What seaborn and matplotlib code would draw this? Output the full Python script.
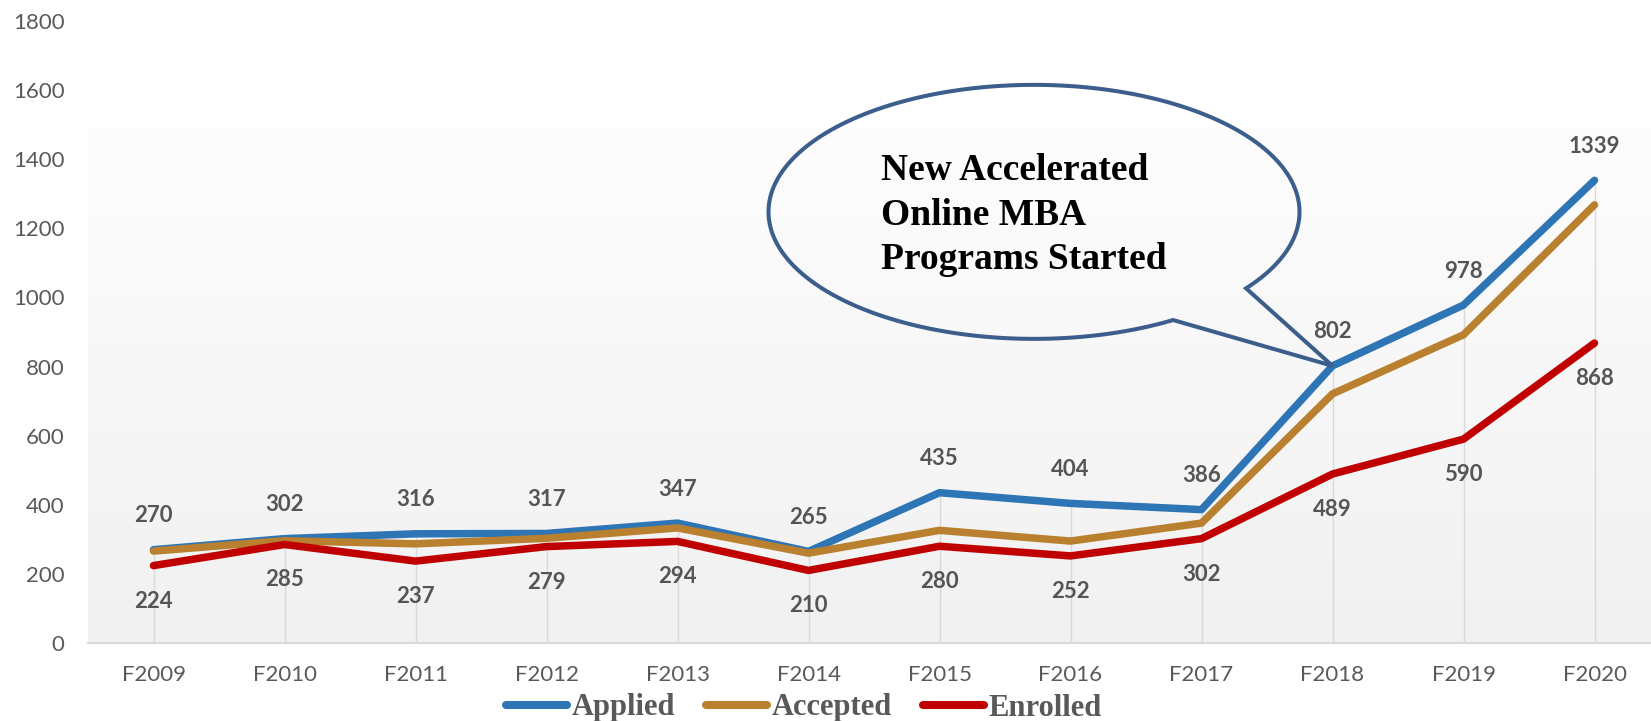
import numpy as np
import pandas as pd
import matplotlib
matplotlib.use("Agg")
import matplotlib.pyplot as plt
import seaborn as sns
from matplotlib.path import Path
from matplotlib.patches import PathPatch
from matplotlib.lines import Line2D
from matplotlib.colors import LinearSegmentedColormap
from matplotlib.transforms import IdentityTransform

# ---- data -------------------------------------------------------------
terms = ["F2009", "F2010", "F2011", "F2012", "F2013", "F2014",
         "F2015", "F2016", "F2017", "F2018", "F2019", "F2020"]
applied = [270, 302, 316, 317, 347, 265, 435, 404, 386, 802, 978, 1339]
accepted = [266, 296, 287, 303, 333, 260, 326, 295, 347, 721, 892, 1268]
enrolled = [224, 285, 237, 279, 294, 210, 280, 252, 302, 489, 590, 868]
series_names = ["Applied", "Accepted", "Enrolled"]
y_ticks = [0, 200, 400, 600, 800, 1000, 1200, 1400, 1600, 1800]
callout_text = "New Accelerated\nOnline MBA\nPrograms Started"
callout_term = "F2018"

colors = {"Applied": "#2e75b6", "Accepted": "#b8802f", "Enrolled": "#c00000"}
label_gray = "#595959"

df = pd.DataFrame({
    "term": terms * 3,
    "count": applied + accepted + enrolled,
    "series": sum([[n] * len(terms) for n in series_names], []),
})

sns.set_theme(style="white")
plt.rcParams["font.family"] = ["Lato", "DejaVu Sans"]

W, H, DPI = 1651, 721, 100
fig = plt.figure(figsize=(W / DPI, H / DPI), dpi=DPI)
ax = fig.add_axes([88 / W, 78 / H, (W - 88) / W, 622 / H])

x = np.arange(len(terms))
ax.set_xlim(-0.5, -0.5 + (W - 88) / 131)
ax.set_ylim(0, 1800)

# plot-area background: soft vertical gradient
grad = np.linspace(0, 1, 256).reshape(-1, 1)
cmap = LinearSegmentedColormap.from_list("bg", ["#f1f1f1", "#fdfdfd"])
ax.imshow(grad, cmap=cmap, origin="lower", aspect="auto",
          extent=(-0.5, ax.get_xlim()[1], 0, 1490), zorder=0)

# drop lines from the highest series to the axis
tops = np.maximum.reduce([applied, accepted, enrolled])
ax.vlines(x, 0, tops, color="#d9d9d9", lw=1.0, zorder=1)

sns.lineplot(data=df, x="term", y="count", hue="series",
             hue_order=series_names, palette=colors, sort=False,
             lw=5.4, legend=False, ax=ax, zorder=3,
             solid_capstyle="round", solid_joinstyle="round")

# axes styling
for s in ["top", "right", "left"]:
    ax.spines[s].set_visible(False)
ax.spines["bottom"].set_color("#d9d9d9")
ax.spines["bottom"].set_linewidth(1.5)
ax.set_yticks(y_ticks)
ax.set_xticks(x)
ax.set_xticklabels(terms)
ax.tick_params(axis="y", length=0, pad=17, labelsize=16, labelcolor=label_gray)
ax.tick_params(axis="x", length=0, pad=16, labelsize=16, labelcolor=label_gray)
ax.set_xlabel("")
ax.set_ylabel("")
ax.grid(False)

# value labels
for xi, v in zip(x, applied):
    ax.annotate(f"{v}", (xi, v), xytext=(0, 24.5), textcoords="offset points",
                ha="center", va="center", fontsize=16, fontweight="bold",
                color="#555555", zorder=5)
for xi, v in zip(x, enrolled):
    ax.annotate(f"{v}", (xi, v), xytext=(0, -25.5), textcoords="offset points",
                ha="center", va="center", fontsize=16, fontweight="bold",
                color="#555555", zorder=5)

# speech-bubble callout pointing at the F2018 applied value
ci = terms.index(callout_term)
tip = ax.transData.transform((ci, applied[ci]))
center = tip + np.array([-298.5, 154])
a, b = 265.5, 127
t0, t1 = np.radians(-37), np.radians(-58.4) + 2 * np.pi
th = np.linspace(t0, t1, 300)
pts = np.column_stack([center[0] + a * np.cos(th), center[1] + b * np.sin(th)])
verts = np.vstack([pts, tip, pts[0]])
codes = [Path.MOVETO] + [Path.LINETO] * (len(verts) - 2) + [Path.CLOSEPOLY]
bubble = PathPatch(Path(verts, codes), transform=IdentityTransform(),
                   facecolor="none", edgecolor="#3b5e8c", lw=2.9,
                   joinstyle="miter", zorder=6)
fig.add_artist(bubble)

ax.annotate(callout_text, (ci, applied[ci]), xytext=(-325, 153),
            textcoords="offset points", ha="left", va="top",
            fontsize=27, fontweight="bold", family="Liberation Serif",
            color="black", linespacing=1.34, zorder=7)

# legend
handles = [Line2D([0], [0], color=colors[n], lw=5.8, solid_capstyle="round")
           for n in series_names]
leg = fig.legend(handles, series_names, loc="center",
                 bbox_to_anchor=(804 / W, 1 - 708 / H), ncol=3, frameon=False,
                 handlelength=2.0, handletextpad=0.16, columnspacing=1.0,
                 borderpad=0.0,
                 prop={"family": "Liberation Serif", "weight": "bold", "size": 22})
for t in leg.get_texts():
    t.set_color(label_gray)

fig.savefig("out.png", dpi=DPI, facecolor="white")
